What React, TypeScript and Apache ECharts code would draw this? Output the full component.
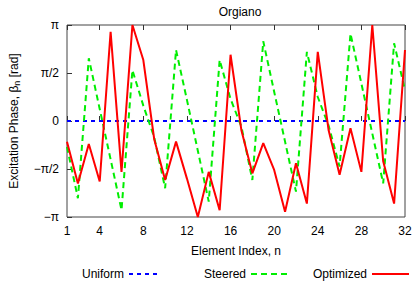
import React, { useEffect, useRef } from "react";
import * as echarts from "echarts";

const elementIndex: number[] = Array.from({ length: 32 }, (_, i) => i + 1);
// phases in units of pi
const uniformPhase: number[] = new Array(32).fill(0);
const steeredPhase: number[] = [
  -0.27, -0.805, 0.653, 0.125, -0.4, -0.927, 0.53, 0.16, -0.17, -0.7, 0.74, 0.22, -0.31, -0.84, 0.635, 0.23,
  -0.06, -0.615, 0.83, 0.305, -0.215, -0.736, 0.72, 0.25, -0.05, -0.475, 0.91, 0.39, -0.13, -0.65, 0.81, 0.32,
];
const optimizedPhase: number[] = [
  -0.215, -0.65, -0.24, -0.63, 0.93, -0.53, 1.0, 0.635, -0.19, -0.615, -0.215, -0.6, -1.0, -0.53, -0.93, 0.69,
  -0.1, -0.545, -0.23, -0.51, -0.945, -0.44, -0.86, 0.72, -0.1, -0.56, -0.076, -0.53, 1.0, -0.42, -0.86, 0.74,
];
const xTicks: number[] = [1, 4, 8, 12, 16, 20, 24, 28, 32];
const yTickLabels: string[] = ["−π", "−π/2", "0", "π/2", "π"];

const FONT = "'Liberation Sans', Arial, sans-serif";

export default function App() {
  const ref = useRef<HTMLDivElement>(null);
  useEffect(() => {
    if (!ref.current) return;
    const chart = echarts.init(ref.current, undefined, { renderer: "svg" });
    const toData = (arr: number[]) => arr.map((v, i) => [elementIndex[i], v * Math.PI]);
    const tickStyle = { show: true, inside: true, length: 5, customValues: xTicks, lineStyle: { color: "#333" } };
    const mkLegend = (name: string, right: number, w: number) => ({
      data: [name],
      right,
      top: 268,
      padding: 0,
      align: "right",
      itemWidth: w,
      itemHeight: 12,
      itemStyle: { opacity: 0 },
      textStyle: { fontSize: 12, color: "#000", fontFamily: FONT },
      selectedMode: false,
    });
    chart.setOption({
      animation: false,
      backgroundColor: "#fff",
      textStyle: { fontFamily: FONT },
      title: {
        text: "Orgiano",
        left: 235,
        top: 1,
        textAlign: "center",
        textStyle: { fontSize: 12, fontWeight: "normal", color: "#000", fontFamily: FONT },
      },
      grid: { left: 64, right: 10, top: 25, bottom: 66, show: true, borderColor: "#444", borderWidth: 1 },
      legend: [mkLegend("Uniform", 253, 32), mkLegend("Steered", 127, 36), mkLegend("Optimized", 5, 37)],
      xAxis: [
        {
          type: "value",
          min: 1,
          max: 32,
          name: "Element Index, n",
          nameLocation: "middle",
          nameGap: 28,
          nameTextStyle: { fontSize: 12, color: "#000", fontFamily: FONT },
          axisLine: { show: false },
          splitLine: { show: false },
          axisTick: tickStyle,
          axisLabel: { customValues: xTicks, fontSize: 12, color: "#000", margin: 8, fontFamily: FONT },
        },
        {
          type: "value",
          position: "top",
          min: 1,
          max: 32,
          axisLine: { show: false },
          splitLine: { show: false },
          axisTick: tickStyle,
          axisLabel: { show: false },
        },
      ],
      yAxis: {
        type: "value",
        min: -Math.PI,
        max: Math.PI,
        interval: Math.PI / 2,
        name: "Excitation Phase, β{sub|n} [rad]",
        nameLocation: "middle",
        nameGap: 47,
        nameTextStyle: {
          fontSize: 12,
          color: "#000",
          fontFamily: FONT,
          rich: { sub: { fontSize: 9, color: "#000", fontFamily: FONT, padding: [0, 0, -5, 0] } },
        },
        axisLine: { show: false },
        splitLine: { show: false },
        axisTick: { show: true, inside: true, length: 5, lineStyle: { color: "#333" } },
        axisLabel: {
          fontSize: 12,
          color: "#000",
          margin: 8,
          fontFamily: FONT,
          formatter: (v: number) => yTickLabels[Math.round(v / (Math.PI / 2)) + 2] ?? "",
        },
      },
      series: [
        {
          name: "Uniform",
          type: "line",
          data: toData(uniformPhase),
          symbol: "none",
          lineStyle: { color: "#0000ff", width: 2, type: [4, 4] },
          itemStyle: { color: "#0000ff" },
          z: 2,
        },
        {
          name: "Steered",
          type: "line",
          data: toData(steeredPhase),
          symbol: "none",
          lineStyle: { color: "#00ee00", width: 2, type: [6, 4] },
          itemStyle: { color: "#00ee00" },
          z: 3,
        },
        {
          name: "Optimized",
          type: "line",
          data: toData(optimizedPhase),
          symbol: "none",
          lineStyle: { color: "#ff0000", width: 2 },
          itemStyle: { color: "#ff0000" },
          z: 4,
        },
      ],
    });
    return () => chart.dispose();
  }, []);
  return <div ref={ref} style={{ width: 415, height: 283, position: "absolute", left: 0, top: 0 }} />;
}
